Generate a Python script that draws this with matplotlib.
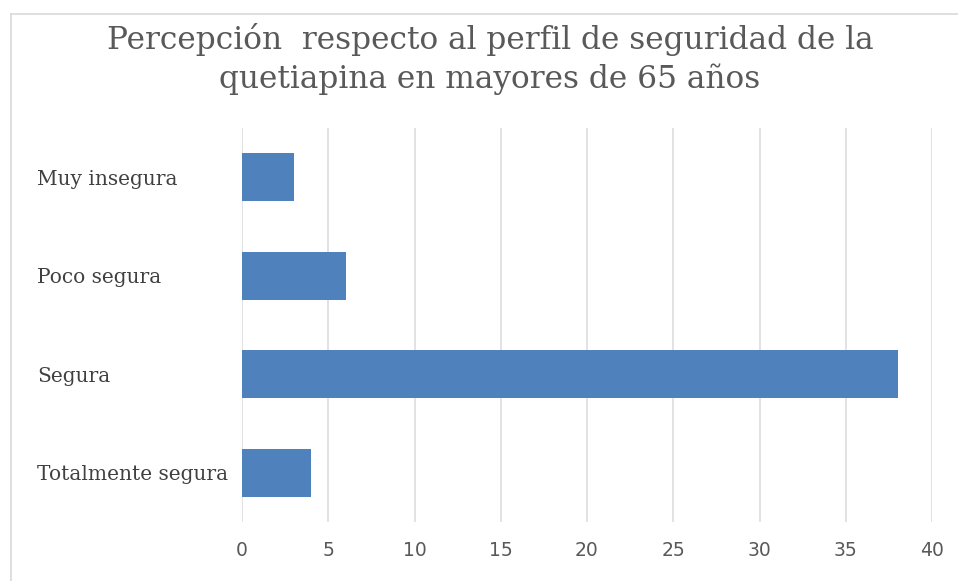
import matplotlib
matplotlib.use("Agg")
import matplotlib.pyplot as plt
from matplotlib.lines import Line2D

categories = ["Muy insegura", "Poco segura", "Segura", "Totalmente segura"]
values = [3, 6, 38, 4]
xticks = [0, 5, 10, 15, 20, 25, 30, 35, 40]

W, H = 958, 581
fig = plt.figure(figsize=(W / 100, H / 100), dpi=100)
ax = fig.add_axes([242 / W, 1 - 522 / H, (932 - 242) / W, (522 - 128) / H])

ypos = list(range(len(categories)))
ax.barh(ypos, values, height=0.49, color="#4F81BD", zorder=3)
ax.set_ylim(3.5, -0.5)
ax.set_xlim(0, 40)
ax.set_xticks(xticks)
ax.set_xticklabels([str(t) for t in xticks], family="DejaVu Sans", fontsize=13.5, color="#595959")
ax.set_yticks(ypos)
ax.set_yticklabels(categories, family="DejaVu Serif", fontsize=14.5, color="#404040")
for lab in ax.get_yticklabels():
    lab.set_horizontalalignment("left")
ax.tick_params(axis="y", length=0, pad=(242 - 37) * 0.72)
ax.tick_params(axis="x", length=0, pad=14)
ax.grid(axis="x", color="#DDDDDD", linewidth=1.2, zorder=0)
for s in ax.spines.values():
    s.set_visible(False)

fig.text(0.5 * (110 + 870) / W, 1 - 59 / H,
         "Percepción  respecto al perfil de seguridad de la\nquetiapina en mayores de 65 años",
         ha="center", va="center", family="DejaVu Serif", fontsize=22.5, color="#595959",
         linespacing=1.33)

fig.add_artist(Line2D([11 / W, 1], [1 - 14 / H, 1 - 14 / H], transform=fig.transFigure,
                      color="#D9D9D9", linewidth=1.2))
fig.add_artist(Line2D([11 / W, 11 / W], [0, 1 - 14 / H], transform=fig.transFigure,
                      color="#D9D9D9", linewidth=1.2))

fig.savefig("out.png", dpi=100)
